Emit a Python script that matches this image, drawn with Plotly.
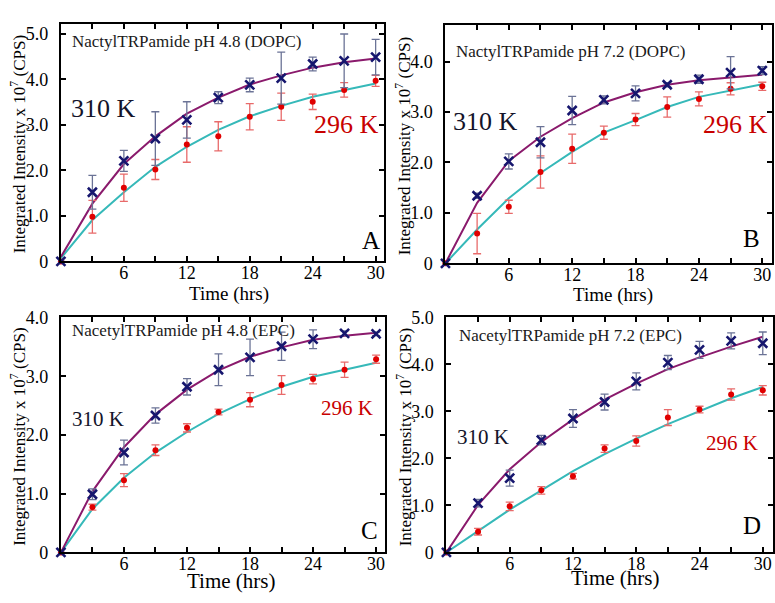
import plotly.graph_objects as go

# ---------------- data ----------------
hours = [0, 3, 6, 9, 12, 15, 18, 21, 24, 27, 30]

# Panel A  (pH 4.8, DOPC)
a_310 = [0, 1.52, 2.21, 2.70, 3.11, 3.60, 3.88, 4.03, 4.34, 4.41, 4.49]
a_310_err = [0, 0.37, 0.23, 0.59, 0.40, 0.13, 0.15, 0.57, 0.15, 0.59, 0.39]
a_296 = [0, 0.98, 1.62, 2.02, 2.57, 2.75, 3.18, 3.40, 3.51, 3.77, 3.97]
a_296_err = [0, 0.36, 0.30, 0.22, 0.39, 0.32, 0.29, 0.30, 0.17, 0.16, 0.12]
a_310_fit = [0.10, 1.27, 2.14, 2.75, 3.25, 3.60, 3.89, 4.09, 4.26, 4.38, 4.46]
a_296_fit = [0.07, 0.91, 1.52, 2.08, 2.52, 2.89, 3.19, 3.42, 3.62, 3.76, 3.91]

# Panel B  (pH 7.2, DOPC)
b_310 = [0, 1.34, 2.02, 2.40, 3.03, 3.24, 3.37, 3.54, 3.65, 3.78, 3.82]
b_310_err = [0, 0.05, 0.15, 0.31, 0.28, 0.08, 0.15, 0.04, 0.08, 0.32, 0.08]
b_296 = [0, 0.59, 1.12, 1.81, 2.27, 2.59, 2.85, 3.10, 3.26, 3.46, 3.51]
b_296_err = [0, 0.40, 0.13, 0.32, 0.29, 0.13, 0.12, 0.20, 0.14, 0.12, 0.08]
b_310_fit = [0, 1.20, 2.03, 2.51, 2.88, 3.19, 3.39, 3.54, 3.63, 3.69, 3.74]
b_296_fit = [0, 0.67, 1.29, 1.79, 2.21, 2.59, 2.84, 3.10, 3.30, 3.42, 3.55]

# Panel C  (pH 4.8, EPC)
c_310 = [0, 0.99, 1.70, 2.33, 2.82, 3.11, 3.32, 3.51, 3.63, 3.73, 3.72]
c_310_err = [0, 0.09, 0.21, 0.13, 0.14, 0.27, 0.31, 0.24, 0.16, 0.04, 0.03]
c_296 = [0, 0.77, 1.23, 1.74, 2.12, 2.39, 2.60, 2.85, 2.95, 3.11, 3.29]
c_296_err = [0, 0.05, 0.11, 0.09, 0.07, 0.05, 0.12, 0.16, 0.08, 0.13, 0.07]
c_310_fit = [0, 1.04, 1.79, 2.35, 2.77, 3.10, 3.33, 3.49, 3.62, 3.69, 3.74]
c_296_fit = [0, 0.74, 1.27, 1.70, 2.05, 2.36, 2.61, 2.82, 2.99, 3.11, 3.23]

# Panel D  (pH 7.2, EPC)
d_310 = [0, 1.05, 1.58, 2.39, 2.85, 3.20, 3.64, 4.04, 4.31, 4.50, 4.45]
d_310_err = [0, 0.08, 0.17, 0.10, 0.19, 0.17, 0.18, 0.15, 0.18, 0.17, 0.24]
d_296 = [0, 0.44, 0.98, 1.32, 1.62, 2.21, 2.37, 2.87, 3.04, 3.36, 3.45]
d_296_err = [0, 0.07, 0.09, 0.08, 0.06, 0.08, 0.11, 0.17, 0.07, 0.12, 0.10]
d_310_fit = [0, 1.01, 1.77, 2.35, 2.83, 3.25, 3.59, 3.90, 4.15, 4.38, 4.59]
d_296_fit = [0, 0.46, 0.91, 1.32, 1.73, 2.09, 2.42, 2.73, 3.01, 3.28, 3.52]

titles = ["NactylTRPamide pH 4.8 (DOPC)", "NactylTRPamide pH 7.2 (DOPC)",
          "NacetylTRPamide pH 4.8 (EPC)", "NacetylTRPamide pH 7.2 (EPC)"]
letters = ["A", "B", "C", "D"]
x_tickvals = [6, 12, 18, 24, 30]
x_ticktext = ["6", "12", "18", "24", "30"]
y_labels_5 = ["0", "1.0", "2.0", "3.0", "4.0", "5.0"]
y_labels_4 = ["0", "1.0", "2.0", "3.0", "4.0"]

# ---------------- style ----------------
W, H = 775, 603
FONT = "Liberation Serif"
C310_MK = "#16166e"
C310_ERR = "#6b7396"
C296_MK = "#e00000"
C296_ERR = "#e86a6a"
C310_FIT = "#8a1a6c"
C296_FIT = "#36b9b9"

# pixel frames: (left, right, top, bottom), x range max, y range max
# xt: (center x, y px, size, anchor)
panels = [
    dict(px=(61, 384, 14, 260), xmax=30.75, ymax=5.23, yt=y_labels_5, xt=(229, 294, 19, "middle"),
         d310=a_310, e310=a_310_err, d296=a_296, e296=a_296_err, f310=a_310_fit, f296=a_296_fit,
         title_xy=(70, 33), k310=(104, 102, 26), k296=(347, 118, 26), let=(371, 238)),
    dict(px=(446, 773, 15, 262), xmax=30.92, ymax=4.735, yt=y_labels_4, xt=(614, 295, 19, "middle"),
         d310=b_310, e310=b_310_err, d296=b_296, e296=b_296_err, f310=b_310_fit, f296=b_296_fit,
         title_xy=(455, 43), k310=(486, 115, 26), k296=(736, 118, 26), let=(752, 236)),
    dict(px=(61, 385, 318, 561), xmax=30.8, ymax=4.0, yt=y_labels_4, xt=(231, 604, 21, "bottom"),
         d310=c_310, e310=c_310_err, d296=c_296, e296=c_296_err, f310=c_310_fit, f296=c_296_fit,
         title_xy=(70, 332), k310=(98, 423, 21), k296=(347, 412, 21), let=(370, 538)),
    dict(px=(447, 774, 318, 561), xmax=30.97, ymax=5.0, yt=y_labels_5, xt=(616, 601, 21, "bottom"),
         d310=d_310, e310=d_310_err, d296=d_296, e296=d_296_err, f310=d_310_fit, f296=d_296_fit,
         title_xy=(458, 337), k310=(484, 442, 21), k296=(733, 448, 21), let=(753, 533)),
]

fig = go.Figure()
annotations = []
layout_axes = {}

for i, p in enumerate(panels):
    n = i + 1
    xa = "x" if n == 1 else f"x{n}"
    ya = "y" if n == 1 else f"y{n}"
    l, r, t, b = p["px"]
    xkey = "xaxis" if n == 1 else f"xaxis{n}"
    ykey = "yaxis" if n == 1 else f"yaxis{n}"
    layout_axes[xkey] = dict(
        domain=[l / W, r / W], range=[0, p["xmax"]], anchor=ya,
        tickmode="array", tickvals=x_tickvals, ticktext=x_ticktext,
        ticks="inside", ticklen=5, tickwidth=1.5, tickcolor="black",
        minor=dict(ticks="inside", tick0=0, dtick=3, ticklen=5, tickwidth=1.5,
                   tickcolor="black", showgrid=False),
        showline=True, linecolor="black", linewidth=2, mirror="ticks",
        showgrid=False, zeroline=False, ticklabelstandoff=-6,
        tickfont=dict(family=FONT, size=18, color="black"))
    yvals = [k for k in range(len(p["yt"]))]
    layout_axes[ykey] = dict(
        domain=[1 - b / H, 1 - t / H], range=[0, p["ymax"]], anchor=xa,
        tickmode="array", tickvals=yvals, ticktext=p["yt"],
        ticks="inside", ticklen=5, tickwidth=1.5, tickcolor="black",
        showline=True, linecolor="black", linewidth=2, mirror="ticks",
        showgrid=False, zeroline=False, ticklabelstandoff=7,
        tickfont=dict(family=FONT, size=18, color="black"))

    # fitted curves
    fig.add_trace(go.Scatter(x=hours, y=p["f296"], mode="lines", xaxis=xa, yaxis=ya,
                             line=dict(color=C296_FIT, width=2), showlegend=False, cliponaxis=False))
    fig.add_trace(go.Scatter(x=hours, y=p["f310"], mode="lines", xaxis=xa, yaxis=ya,
                             line=dict(color=C310_FIT, width=2), showlegend=False, cliponaxis=False))
    # data points with error bars
    fig.add_trace(go.Scatter(x=hours, y=p["d296"], mode="markers", xaxis=xa, yaxis=ya,
                             marker=dict(color=C296_MK, size=6, symbol="circle"),
                             error_y=dict(type="data", array=p["e296"], color=C296_ERR,
                                          thickness=1.3, width=4),
                             showlegend=False, cliponaxis=False))
    fig.add_trace(go.Scatter(x=hours, y=p["d310"], mode="markers", xaxis=xa, yaxis=ya,
                             marker=dict(color=C310_MK, size=9, symbol="x-thin",
                                         line=dict(color=C310_MK, width=2.6)),
                             error_y=dict(type="data", array=p["e310"], color=C310_ERR,
                                          thickness=1.3, width=4),
                             showlegend=False, cliponaxis=False))

    # in-panel texts
    tx, ty = p["title_xy"]
    annotations.append(dict(xref="paper", yref="paper", x=tx / W, y=1 - ty / H,
                            xanchor="left", yanchor="middle", showarrow=False,
                            text=titles[i], font=dict(family=FONT, size=17, color="#1a1a1a")))
    kx, ky, ks = p["k310"]
    annotations.append(dict(xref="paper", yref="paper", x=kx / W, y=1 - ky / H,
                            xanchor="center", yanchor="middle", showarrow=False,
                            text="310 K", font=dict(family=FONT, size=ks, color="#14142a")))
    kx, ky, ks = p["k296"]
    annotations.append(dict(xref="paper", yref="paper", x=kx / W, y=1 - ky / H,
                            xanchor="center", yanchor="middle", showarrow=False,
                            text="296 K", font=dict(family=FONT, size=ks, color="#c80000")))
    lx, ly = p["let"]
    annotations.append(dict(xref="paper", yref="paper", x=lx / W, y=1 - ly / H,
                            xanchor="center", yanchor="middle", showarrow=False,
                            text=letters[i], font=dict(family=FONT, size=25, color="black")))
    # axis titles
    xx, xy, xs, xanc = p["xt"]
    annotations.append(dict(xref="paper", yref="paper", x=xx / W,
                            y=1 - xy / H, xanchor="center", yanchor=xanc,
                            showarrow=False, text="Time (hrs)", borderpad=0,
                            font=dict(family=FONT, size=xs, color="black")))
    annotations.append(dict(xref="paper", yref="paper", x=(l - 43) / W,
                            y=1 - ((t + b) / 2 + 2) / H, xanchor="center", yanchor="middle",
                            textangle=-90, showarrow=False,
                            text="Integrated Intensity x 10<sup>7</sup> (CPS)",
                            font=dict(family=FONT, size=17, color="black")))

fig.update_layout(width=W, height=H, margin=dict(l=0, r=0, t=0, b=0),
                  paper_bgcolor="white", plot_bgcolor="white",
                  annotations=annotations, **layout_axes)

fig.write_html("out.html")
